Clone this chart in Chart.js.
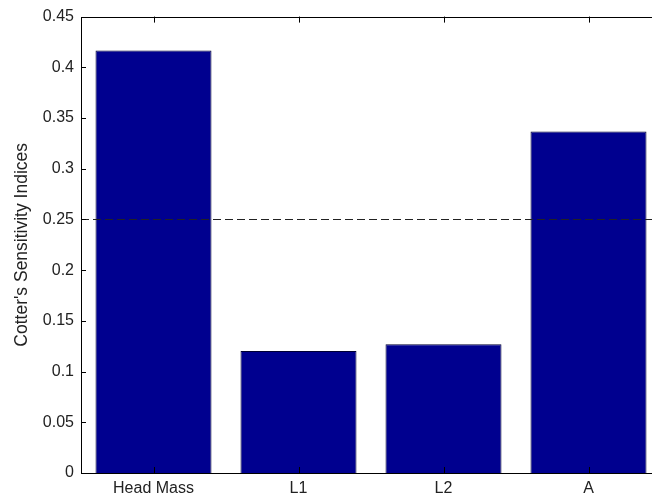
<!DOCTYPE html>
<html>
<head>
<meta charset="utf-8">
<script src="https://cdn.jsdelivr.net/npm/chart.js@4/dist/chart.umd.min.js"></script>
<style>
  body { margin: 0; overflow: hidden; background: #fff; }
  #wrap { width: 661px; height: 499px; }
</style>
</head>
<body>
<div id="wrap"><canvas id="myChart"></canvas></div>
<script>
var factors = ['Head Mass', 'L1', 'L2', 'A']
var cotterIdx = [0.4165, 0.1203, 0.127, 0.3368]
var threshold = [0.25]
var yLabel = "Cotter's Sensitivity Indices"

// matlab style box, inward ticks and the dashed threshold line
var boxPlugin = {
  id: 'box',
  afterDatasetsDraw: function(chart) {
    var c = chart.ctx, a = chart.chartArea
    var xs = chart.scales.x, ys = chart.scales.y
    c.save()
    // threshold
    c.strokeStyle = '#222'
    c.lineWidth = 1
    c.setLineDash([8, 4])
    var ty = Math.round(ys.getPixelForValue(threshold[0])) + 0.5
    c.beginPath()
    c.moveTo(a.left, ty)
    c.lineTo(a.right, ty)
    c.stroke()
    c.setLineDash([])
    // box
    c.strokeStyle = '#000'
    c.strokeRect(Math.round(a.left) + 0.5, Math.round(a.top) + 0.5, Math.round(a.right - a.left), Math.round(a.bottom - a.top))
    // ticks
    c.beginPath()
    ys.ticks.forEach(function(t) {
      var y = Math.round(ys.getPixelForValue(t.value)) + 0.5
      c.moveTo(a.left, y); c.lineTo(a.left + 5, y)
      c.moveTo(a.right, y); c.lineTo(a.right - 5, y)
    })
    factors.forEach(function(f, i) {
      var x = Math.round(xs.getPixelForValue(i)) + 0.5
      c.moveTo(x, a.top); c.lineTo(x, a.top + 6)
      c.moveTo(x, a.bottom); c.lineTo(x, a.bottom - 6)
    })
    c.stroke()
    c.restore()
  }
}

var ctx = document.getElementById('myChart')
var myChart = new Chart(ctx, {
  type: 'bar',
  data: {
    labels: factors,
    datasets: [{
      data: cotterIdx,
      backgroundColor: '#00008f',
      borderColor: '#000033',
      borderWidth: 1,
      barPercentage: 0.8,
      categoryPercentage: 1.0
    }]
  },
  options: {
    responsive: true,
    maintainAspectRatio: false,
    animation: false,
    layout: { padding: { top: 16, right: 0, left: 0, bottom: 0 } },
    plugins: { legend: { display: false }, tooltip: { enabled: false } },
    scales: {
      x: {
        offset: true,
        grid: { display: false, drawTicks: false },
        border: { display: false },
        ticks: { color: '#222', padding: 6, font: { family: 'Liberation Sans, Arial', size: 16 } },
        afterFit: function(s) { s.height = 26 }
      },
      y: {
        min: 0,
        max: 0.45,
        grid: { display: false, drawTicks: false },
        border: { display: false },
        ticks: {
          stepSize: 0.05, color: '#222', padding: 7,
          font: { family: 'Liberation Sans, Arial', size: 16 },
          callback: function(v) { return String(Number(v.toFixed(2))) }
        },
        title: { display: true, text: yLabel, color: '#222', padding: { top: 12, bottom: 0 }, font: { family: 'Liberation Sans, Arial', size: 17.5 } },
        afterFit: function(s) { s.width = 81 }
      }
    }
  },
  plugins: [boxPlugin]
})
</script>
</body>
</html>
